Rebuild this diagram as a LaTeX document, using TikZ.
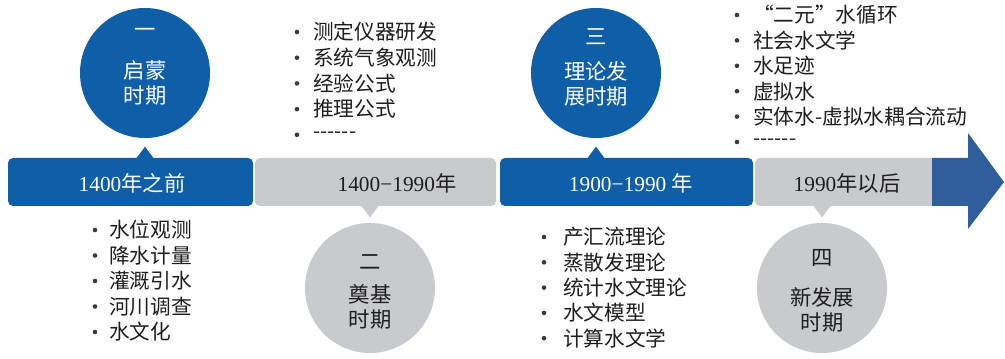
\documentclass[tikz,border=0pt]{standalone}
\usepackage{fontspec}
\setmainfont{Liberation Serif}
\newfontfamily\cjk{Noto Sans CJK SC}
\usetikzlibrary{fit,calc}
\definecolor{bblue}{HTML}{0F5EA8}
\definecolor{ablue}{HTML}{2F5E9A}
\definecolor{bgrey}{HTML}{C9CACD}
\definecolor{txt}{HTML}{1E1E1E}
\definecolor{dotc}{HTML}{3A3A3A}
\begin{document}
\begin{tikzpicture}[x=0.75pt,y=-0.75pt,
  segb/.style={fill=bblue, inner sep=0pt, rounded corners=3.75pt},
  segg/.style={fill=bgrey, inner sep=0pt, rounded corners=3.75pt},
  period/.style={circle, inner sep=0pt, minimum size=97.5pt},
  barlbl/.style={inner sep=0pt, font=\fontsize{16}{18}\selectfont},
  numlbl/.style={inner sep=0pt, font=\cjk\fontsize{16}{18}\selectfont},
  namelbl/.style={inner sep=0pt, align=center, font=\cjk\fontsize{16}{18.75}\selectfont},
  item/.style={inner sep=0pt, anchor=west, text=txt, font=\cjk\fontsize{15.5}{18}\selectfont},
  dot/.style={fill=dotc}]
\useasboundingbox (0,0) rectangle (1005,359);
\fill[white] (0,0) rectangle (1005,359);

% bar segments
\node[segb, fit={(8,158) (253,206)}] (s1) {};
\node[segg, fit={(255,158) (496,206)}] (s2) {};
\node[segb, fit={(500,158) (753,206)}] (s3) {};
\node[segg, fit={(755,158) (940,206)}] (s4) {};
\fill[bgrey] (900,158) rectangle (932,206);
% arrow head
\fill[ablue] (932,158) -- (968,158) -- (968,133) -- (1004,182) -- (968,229) -- (968,206) -- (932,206) -- cycle;

% bar labels
\node[barlbl, text=white] (t1) at (132,183) {1400{\cjk 年之前}};
\node[barlbl, text=txt] (t2) at (397,183) {1400−1990{\cjk 年}};
\node[barlbl, text=white] (t3) at (631,183) {1900−1990 {\cjk 年}};
\node[barlbl, text=txt] (t4) at (847,183) {1990{\cjk 年以后}};

% period circles
\node[period, fill=bblue] (c1) at (145,73) {};
\node[period, fill=bgrey] (c2) at (370,288) {};
\node[period, fill=bblue] (c3) at (596,73) {};
\node[period, fill=bgrey] (c4) at (822,288) {};

% pointers
\fill[bblue] ($(c1 |- s1.north)+(-9,1)$) -- ($(c1 |- s1.north)+(0,-11)$) -- ($(c1 |- s1.north)+(9,1)$) -- cycle;
\fill[bgrey] ($(c2 |- s2.south)+(-9,-1)$) -- ($(c2 |- s2.south)+(0,11)$) -- ($(c2 |- s2.south)+(9,-1)$) -- cycle;
\fill[bblue] ($(c3 |- s3.north)+(-9,1)$) -- ($(c3 |- s3.north)+(0,-11)$) -- ($(c3 |- s3.north)+(9,1)$) -- cycle;
\fill[bgrey] ($(c4 |- s4.south)+(-9,-1)$) -- ($(c4 |- s4.south)+(0,11)$) -- ($(c4 |- s4.south)+(9,-1)$) -- cycle;

% circle texts
\node[numlbl, text=white] (n1) at (145,33) {一};
\node[namelbl, text=white] (m1) at (145,82.5) {启蒙\\时期};
\node[numlbl, text=txt] (n2) at (370,262) {二};
\node[namelbl, text=txt] (m2) at (370,306.5) {奠基\\时期};
\node[numlbl, text=white] (n3) at (596,37) {三};
\node[namelbl, text=white] (m3) at (596,84) {理论发\\展时期};
\node[numlbl, text=txt] (n4) at (822,258) {四};
\node[namelbl, text=txt] (m4) at (822,309.5) {新发展\\时期};

% lists
\foreach \t [count=\i] in {水位观测,降水计量,灌溉引水,河川调查,水文化} {
  \node[item] (la\i) at (109,{230+25.5*(\i-1)}) {\t};
  \fill[dot] ($(la\i.west)+(-14,0)$) circle (2.3);
}
\foreach \t [count=\i] in {测定仪器研发,系统气象观测,经验公式,推理公式,------} {
  \node[item] (lb\i) at (313,{32+25.7*(\i-1)}) {\t};
  \fill[dot] ($(lb\i.west)+(-16,0)$) circle (2.3);
}
\foreach \t [count=\i] in {产汇流理论,蒸散发理论,统计水文理论,水文模型,计算水文学} {
  \node[item] (lc\i) at (563,{237+25.3*(\i-1)}) {\t};
  \fill[dot] ($(lc\i.west)+(-19,0)$) circle (2.3);
}
\foreach \t [count=\i] in {“二元”水循环,社会水文学,水足迹,虚拟水,实体水-虚拟水耦合流动,------} {
  \node[item] (ld\i) at (753,{15+25.4*(\i-1)}) {\t};
  \fill[dot] ($(ld\i.west)+(-16,0)$) circle (2.3);
}
\end{tikzpicture}
\end{document}
